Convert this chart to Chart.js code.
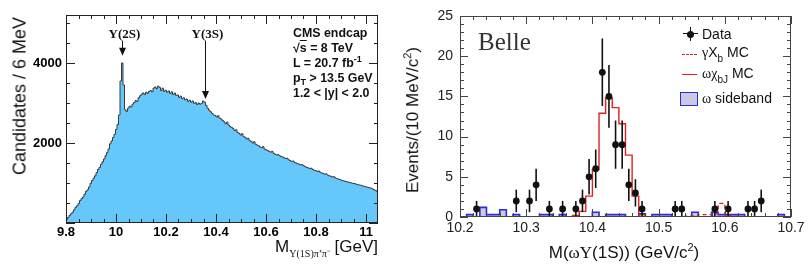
<!DOCTYPE html>
<html>
<head>
<meta charset="utf-8">
<style>
  body { margin: 0; background: #fff; font-family: "Liberation Sans", Arial, sans-serif; }
  #wrap { position: relative; width: 808px; height: 273px; overflow: hidden; }
  canvas { position: absolute; top: 0; }
  #cms { left: 0; }
  #belle { left: 400px; }
  .txt { position: absolute; white-space: nowrap; color: #111; }
  .ctr { transform: translate(-50%, -50%); }
  .rot { transform: translate(-50%, -50%) rotate(-90deg); }
  .serif { font-family: "Liberation Serif", "Times New Roman", serif; }
  #cmsinfo { left: 293px; top: 26px; font-size: 12.4px; font-weight: bold; line-height: 15px; }
  #cmsinfo sub { font-size: 9px; vertical-align: -3px; line-height: 0; }
  #cmsinfo sup { font-size: 9px; vertical-align: 5px; line-height: 0; }
  .leg { position: absolute; left: 702px; font-size: 14px; line-height: 16px; white-space: nowrap; color: #111; }
  .leg sub { font-size: 10px; vertical-align: -5px; line-height: 0; }
  .sym { position: absolute; }
</style>
</head>
<body>
<div id="wrap">
  <canvas id="cms" width="400" height="273"></canvas>
  <canvas id="belle" width="408" height="273"></canvas>

  <!-- CMS panel texts -->
  <div class="txt rot" style="left:20px;top:96px;font-size:18px;">Candidates / 6 MeV</div>
  <div class="txt" style="right:430px;top:237px;font-size:17px;line-height:20px;">M<span class="serif" style="font-size:10px;vertical-align:-5px;">&Upsilon;(1S)&pi;&#8314;&pi;&#8315;</span> [GeV]</div>
  <div id="cmsinfo" class="txt">
    CMS endcap<br>
    &radic;<span style="text-decoration:overline">s</span> = 8 TeV<br>
    L = 20.7 fb<sup>-1</sup><br>
    p<sub>T</sub> &gt; 13.5 GeV<br>
    1.2 &lt; |y| &lt; 2.0
  </div>

  <!-- Belle panel texts -->
  <div class="txt rot" style="left:412px;top:120px;font-size:17px;">Events/(10 MeV/c<sup style="font-size:11px;">2</sup>)</div>
  <div class="txt ctr" style="left:624px;top:252px;font-size:17px;">M(<span class="serif">&omega;&Upsilon;</span>(1S)) (GeV/c<sup style="font-size:11px;">2</sup>)</div>
  <div class="txt serif" style="left:478px;top:28px;font-size:25px;color:#333;">Belle</div>

  <div class="sym" style="left:683px;top:33px;width:15px;height:0;border-top:1.6px solid #111;"></div>
  <div class="sym" style="left:689.5px;top:27px;width:0;height:14px;border-left:1.6px solid #111;"></div>
  <div class="sym" style="left:687px;top:31px;width:7px;height:7px;border-radius:50%;background:#111;"></div>
  <div class="leg" style="top:26px;">Data</div>

  <div class="sym" style="left:682px;top:54px;width:15px;height:0;border-top:1.4px dashed #e02020;"></div>
  <div class="leg" style="top:44px;"><span class="serif">&gamma;</span>X<sub>b</sub> MC</div>

  <div class="sym" style="left:682px;top:74px;width:15px;height:0;border-top:1.6px solid #e02020;"></div>
  <div class="leg" style="top:65px;"><span class="serif">&omega;&chi;</span><sub>bJ</sub> MC</div>

  <div class="sym" style="left:680px;top:92px;width:16px;height:12px;background:#c9c9e4;border:1.5px solid #2a2ae0;"></div>
  <div class="leg" style="top:90px;"><span class="serif">&omega;</span> sideband</div>
</div>

<script src="https://cdn.jsdelivr.net/npm/chart.js"></script>
<script>
// ---------- CMS: Y(1S) pi+ pi- mass spectrum, 6 MeV bins from 9.8 GeV ----------
const cmsBinLo = 9.8;
const cmsBinW = 0.006;
const cmsCounts = [
  90, 140, 190, 230, 270, 330, 390, 430, 490, 560,
  610, 650, 720, 790, 830, 900, 990, 1060, 1120, 1180,
  1260, 1340, 1390, 1470, 1530, 1600, 1680, 1760, 1850, 1980,
  2050, 2140, 2220, 2340, 2460, 2700, 3550, 4000, 3450, 2830,
  2790, 2870, 2920, 2900, 2970, 3010, 3060, 3040, 3130, 3180,
  3220, 3250, 3210, 3270, 3240, 3290, 3310, 3280, 3370, 3400,
  3360, 3420, 3390, 3310, 3370, 3290, 3320, 3270, 3300, 3240,
  3280, 3210, 3250, 3190, 3200, 3140, 3170, 3110, 3130, 3080,
  3100, 3040, 3070, 3020, 3050, 2990, 3010, 2960, 3000, 2970,
  2990, 3050, 3020, 2940, 2870, 2820, 2780, 2740, 2700, 2690,
  2650, 2680, 2620, 2600, 2560, 2530, 2480, 2520, 2450, 2410,
  2390, 2360, 2310, 2330, 2260, 2240, 2200, 2230, 2160, 2140,
  2100, 2120, 2060, 2040, 2000, 2030, 1970, 1950, 1930, 1900,
  1880, 1910, 1850, 1830, 1810, 1790, 1770, 1790, 1740, 1720,
  1700, 1710, 1680, 1660, 1650, 1630, 1610, 1620, 1580, 1560,
  1540, 1550, 1510, 1500, 1480, 1470, 1450, 1460, 1430, 1410,
  1390, 1380, 1360, 1370, 1340, 1320, 1310, 1290, 1300, 1270,
  1250, 1240, 1220, 1230, 1200, 1180, 1170, 1150, 1160, 1130,
  1110, 1100, 1090, 1070, 1060, 1050, 1040, 1030, 1020, 1010,
  1000, 990, 985, 970, 960, 950, 945, 930, 920, 910,
  900, 890, 880, 870, 850, 830, 810, 790
];
const cmsXTicks = [9.8, 10, 10.2, 10.4, 10.6, 10.8, 11];
const cmsYTicks = [2000, 4000];
const upsLabels = ['\u03A5(2S)', '\u03A5(3S)'];
const upsMass = [10.023, 10.355];
const upsArrowTip = [4180, 3100];
const upsArrowTop = 4560;

// ---------- Belle: M(omega Y(1S)), 10 MeV bins from 10.2 GeV ----------
const belleBinLo = 10.2;
const belleBinW = 0.01;
const omegaChiMC = [
  0, 0, 0, 0, 0, 0, 0, 0, 0, 0,
  0, 0, 0, 0, 0, 0, 0, 0.2, 0.7, 2.6,
  5.9, 12.9, 14.8, 13.6, 11.6, 7.7, 2.6, 0.3, 0, 0,
  0, 0, 0, 0, 0, 0, 0, 0, 0, 0,
  0, 0, 0, 0, 0, 0, 0, 0, 0, 0
];
const gammaXbMC = [
  0, 0, 0, 0, 0, 0, 0, 0, 0, 0,
  0, 0, 0, 0, 0, 0, 0, 0, 0, 0,
  0, 0, 0, 0, 0, 0, 0, 0, 0, 0,
  0, 0, 0, 0, 0.1, 0.15, 0.3, 0.3, 0.4, 1.7,
  0.2, 0.1, 0, 0, 0, 0, 0, 0, 0, 0
];
const omegaSideband = [
  0, 0.3, 0, 1.2, 0.3, 0.3, 0.9, 0, 0.3, 0,
  0, 0, 0.3, 0.3, 0, 0.3, 0, 0, 0, 0,
  0.6, 0, 0.3, 0.3, 0.3, 0, 0, 0.4, 0, 0.3,
  0.3, 0.3, 0, 0, 0, 0.6, 0, 0, 0.6, 0.3,
  0.3, 0.3, 0.3, 0, 0, 0, 0, 0, 0.3, 0
];
const belleX = [10.225, 10.285, 10.305, 10.315, 10.335, 10.355, 10.375, 10.385, 10.395, 10.405,
                10.415, 10.425, 10.435, 10.445, 10.455, 10.465, 10.475, 10.525, 10.535, 10.585,
                10.605, 10.635, 10.645, 10.655];
const belleY = [1, 2, 2, 4, 1, 1, 1, 2, 5, 6,
                18, 15, 9, 9, 4, 3, 1, 1, 1, 1,
                1, 1, 1, 2];
const belleErr = [1, 1.4, 1.4, 2, 1, 1, 1, 1.4, 2.2, 2.4,
                  4.2, 3.9, 3, 3, 2, 1.7, 1, 1, 1, 1,
                  1, 1, 1, 1.4];
const belleXTicks = [10.2, 10.3, 10.4, 10.5, 10.6, 10.7];
const belleYTicks = [0, 5, 10, 15, 20, 25];

Chart.defaults.font.family = '"Liberation Sans", Arial, sans-serif';
Chart.defaults.color = '#111';

// histogram -> step points at the left bin edges, plus the closing right edge
function histPoints(lo, w, vals) {
  const pts = vals.map((v, i) => ({ x: lo + i * w, y: v }));
  pts.push({ x: lo + vals.length * w, y: vals[vals.length - 1] });
  return pts;
}

// frame with inward ticks (ROOT style)
function framePlugin(c) {
  return {
    id: 'frame',
    afterDatasetsDraw(chart) {
      const { ctx, chartArea: a, scales: { x, y } } = chart;
      ctx.save();
      ctx.strokeStyle = c.color;
      ctx.lineWidth = 1;
      ctx.beginPath();
      const nx = Math.round((c.xMax - c.xMin) / c.xMinor);
      for (let i = 0; i <= nx; i++) {
        const v = c.xMin + i * c.xMinor;
        if (v > x.max + 1e-9) break;
        const r = (v - c.xMin) / c.xMajor;
        const len = Math.abs(r - Math.round(r)) < 1e-6 ? c.major : c.minor;
        const px = Math.round(x.getPixelForValue(v)) + 0.5;
        ctx.moveTo(px, a.bottom); ctx.lineTo(px, a.bottom - len);
        ctx.moveTo(px, a.top); ctx.lineTo(px, a.top + len);
      }
      const ny = Math.round((c.yMax - c.yMin) / c.yMinor);
      for (let i = 0; i <= ny; i++) {
        const v = c.yMin + i * c.yMinor;
        const r = v / c.yMajor;
        const len = Math.abs(r - Math.round(r)) < 1e-6 ? c.major : c.minor;
        const py = Math.round(y.getPixelForValue(v)) + 0.5;
        ctx.moveTo(a.left, py); ctx.lineTo(a.left + len, py);
        ctx.moveTo(a.right, py); ctx.lineTo(a.right - len, py);
      }
      ctx.stroke();
      ctx.strokeRect(Math.round(a.left) + 0.5, Math.round(a.top) + 0.5,
                     Math.round(a.right - a.left) - 1, Math.round(a.bottom - a.top) - 1);
      ctx.restore();
    }
  };
}

const upsArrows = {
  id: 'upsArrows',
  afterDatasetsDraw(chart) {
    const { ctx, scales: { x, y } } = chart;
    ctx.save();
    ctx.strokeStyle = '#111';
    ctx.fillStyle = '#111';
    ctx.lineWidth = 1;
    ctx.font = 'bold 13px "Liberation Serif", serif';
    ctx.textAlign = 'center';
    upsLabels.forEach((lab, i) => {
      const px = Math.round(x.getPixelForValue(upsMass[i])) + 0.5;
      const top = y.getPixelForValue(upsArrowTop);
      const tip = y.getPixelForValue(upsArrowTip[i]);
      ctx.beginPath();
      ctx.moveTo(px, top);
      ctx.lineTo(px, tip - 6);
      ctx.stroke();
      ctx.beginPath();
      ctx.moveTo(px - 3.5, tip - 8);
      ctx.lineTo(px + 3.5, tip - 8);
      ctx.lineTo(px, tip);
      ctx.closePath();
      ctx.fill();
      ctx.fillText(lab, px + 2, top - 3);
    });
    ctx.restore();
  }
};

new Chart(document.getElementById('cms'), {
  type: 'line',
  data: {
    datasets: [{
      data: histPoints(cmsBinLo, cmsBinW, cmsCounts),
      stepped: true,
      fill: 'origin',
      backgroundColor: '#66c8fa',
      borderColor: '#3a3a3a',
      borderWidth: 1,
      pointRadius: 0
    }]
  },
  options: {
    responsive: false,
    animation: false,
    devicePixelRatio: 1,
    layout: { padding: { top: 15, right: 22, left: 0, bottom: 0 } },
    plugins: { legend: { display: false }, tooltip: { enabled: false } },
    scales: {
      x: {
        type: 'linear',
        min: cmsBinLo,
        max: cmsBinLo + cmsCounts.length * cmsBinW,
        grid: { display: false, drawTicks: false },
        border: { display: false },
        afterBuildTicks: s => { s.ticks = cmsXTicks.map(v => ({ value: v })); },
        afterFit: s => { s.height = 50; },
        ticks: {
          autoSkip: false, maxRotation: 0, padding: 2, color: '#000',
          font: { size: 13, weight: 'bold' },
          callback: v => String(Math.round(v * 10) / 10)
        }
      },
      y: {
        min: 0,
        max: 5200,
        grid: { display: false, drawTicks: false },
        border: { display: false },
        afterBuildTicks: s => { s.ticks = cmsYTicks.map(v => ({ value: v })); },
        afterFit: s => { s.width = 66; },
        ticks: { padding: 4, color: '#000', font: { size: 13, weight: 'bold' },
                 callback: v => String(v) }
      }
    }
  },
  plugins: [
    framePlugin({ color: '#222', xMin: 9.8, xMax: 11.05, xMinor: 0.05, xMajor: 0.2,
                  yMin: 0, yMax: 5200, yMinor: 500, yMajor: 2000, major: 9, minor: 4 }),
    upsArrows
  ]
});

const errorBars = {
  id: 'errorBars',
  afterDatasetsDraw(chart) {
    const { ctx, scales: { x, y } } = chart;
    ctx.save();
    ctx.strokeStyle = '#111';
    ctx.lineWidth = 1.6;
    belleX.forEach((v, i) => {
      const px = x.getPixelForValue(v);
      ctx.beginPath();
      ctx.moveTo(px, y.getPixelForValue(Math.max(0, belleY[i] - belleErr[i])));
      ctx.lineTo(px, y.getPixelForValue(belleY[i] + belleErr[i]));
      ctx.stroke();
    });
    ctx.restore();
  }
};

new Chart(document.getElementById('belle'), {
  type: 'line',
  data: {
    datasets: [
      {
        label: 'Data',
        data: belleX.map((v, i) => ({ x: v, y: belleY[i] })),
        showLine: false,
        pointRadius: 3.4,
        pointBackgroundColor: '#111',
        pointBorderColor: '#111',
        pointBorderWidth: 0
      },
      {
        label: 'omega chi_bJ MC',
        data: histPoints(belleBinLo, belleBinW, omegaChiMC),
        stepped: true,
        fill: false,
        borderColor: '#e02020',
        borderWidth: 1.4,
        pointRadius: 0
      },
      {
        label: 'gamma X_b MC',
        data: histPoints(belleBinLo, belleBinW, gammaXbMC),
        stepped: true,
        fill: false,
        borderColor: '#e02020',
        borderDash: [4, 3],
        borderWidth: 1.3,
        pointRadius: 0
      },
      {
        label: 'omega sideband',
        data: histPoints(belleBinLo, belleBinW, omegaSideband),
        stepped: true,
        fill: 'origin',
        backgroundColor: '#c9c9e4',
        borderColor: '#2a2ae0',
        borderWidth: 1.6,
        pointRadius: 0
      }
    ]
  },
  options: {
    responsive: false,
    animation: false,
    devicePixelRatio: 1,
    layout: { padding: { top: 16, right: 17, left: 0, bottom: 0 } },
    plugins: { legend: { display: false }, tooltip: { enabled: false } },
    scales: {
      x: {
        type: 'linear',
        min: 10.2,
        max: 10.7,
        grid: { display: false, drawTicks: false },
        border: { display: false },
        afterBuildTicks: s => { s.ticks = belleXTicks.map(v => ({ value: v })); },
        afterFit: s => { s.height = 56; },
        ticks: {
          autoSkip: false, maxRotation: 0, padding: 3, color: '#222',
          font: { size: 14 },
          callback: v => v.toFixed(1)
        }
      },
      y: {
        min: 0,
        max: 25,
        grid: { display: false, drawTicks: false },
        border: { display: false },
        afterBuildTicks: s => { s.ticks = belleYTicks.map(v => ({ value: v })); },
        afterFit: s => { s.width = 60; },
        ticks: { padding: 7, color: '#222', font: { size: 14 } }
      }
    }
  },
  plugins: [
    errorBars,
    framePlugin({ color: '#444', xMin: 10.2, xMax: 10.7, xMinor: 0.02, xMajor: 0.1,
                  yMin: 0, yMax: 25, yMinor: 1, yMajor: 5, major: 8, minor: 4 })
  ]
});
</script>
</body>
</html>
